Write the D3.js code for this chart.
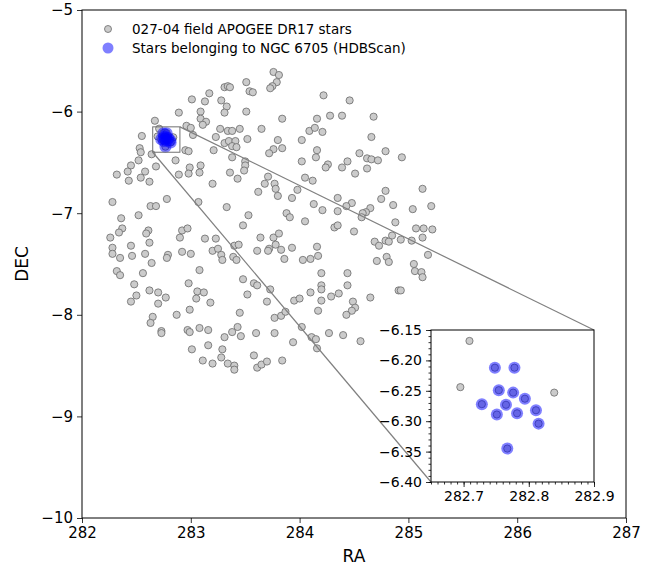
<!DOCTYPE html>
<html>
<head>
<meta charset="utf-8">
<script src="https://cdn.jsdelivr.net/npm/d3@7"></script>
<style>
  body { margin: 0; background: #fff; }
  svg text { font-family: 'DejaVu Sans', sans-serif; fill: #000; }
</style>
</head>
<body>
<svg id="chart" width="660" height="569"></svg>
<script>
// field stars (APOGEE DR17, field 027-04)
const fieldRA = [
  283.17, 283.01, 283.13, 282.89, 283.09, 283.09, 283.14, 283.11, 282.67, 282.96, 283.00, 283.02, 283.23, 282.55,
  282.709, 282.695, 282.839,
  282.53, 282.54, 282.64, 282.95, 282.98, 283.21, 282.52, 282.45, 282.86, 282.99, 283.09, 282.68,
  283.76, 283.81, 283.79, 283.75, 283.73, 283.51, 283.31, 283.34, 283.36, 283.54, 283.57, 284.22, 283.28, 283.33,
  283.31, 283.51, 283.84, 284.28, 284.16, 283.65, 283.27, 283.34, 283.38, 283.45, 284.09, 284.14, 284.21, 283.31,
  283.35, 283.41, 283.38, 283.42, 283.52, 283.80, 284.02, 283.84, 283.76, 283.72, 284.16, 284.15, 283.38, 283.50,
  283.50, 284.02, 284.26,
  284.46, 284.39, 284.68, 284.66, 284.55, 284.62, 284.66, 284.72, 284.79, 284.94, 284.44, 284.39, 284.62,
  282.32, 282.42, 282.43, 282.58, 282.54, 282.62, 282.89, 282.98, 283.08, 283.20, 282.28, 282.63, 282.68, 282.78,
  282.52, 283.07, 282.36, 282.37, 282.34, 282.26, 282.61, 282.59, 282.92, 282.97, 282.90, 283.13, 283.23, 282.28,
  282.45, 282.62, 282.28, 282.35, 282.46, 282.58, 282.64, 282.79, 282.78, 282.92, 283.00, 283.20, 283.25, 283.08,
  282.32,
  283.36, 283.43, 283.49, 283.71, 283.68, 283.77, 283.78, 283.80, 283.62, 283.98, 283.93, 284.05, 284.12, 284.24,
  283.33, 283.53, 283.48, 283.88, 283.91, 284.05, 284.13, 284.21, 283.64, 283.76, 283.81, 283.78, 283.72, 283.71,
  283.83, 283.93, 283.61, 283.86, 284.03, 284.10, 284.17, 284.16, 283.28, 283.29, 283.40, 283.44, 283.39, 283.42,
  284.20,
  284.51, 284.79, 284.75, 285.13, 284.35, 284.48, 284.43, 284.35, 284.65, 284.61, 284.58, 284.57, 284.86, 285.04,
  285.21, 284.88, 284.32, 284.35, 284.50, 285.07, 285.14, 285.22, 285.13, 284.85, 284.93, 285.03, 284.69, 284.73,
  284.79, 284.82, 285.18, 284.80, 284.82, 284.71, 285.05, 285.06, 285.12, 284.44,
  282.35, 282.56, 282.48, 282.62, 282.70, 282.77, 282.50, 282.45, 282.70, 282.98, 283.06, 283.12, 283.05, 283.18,
  282.99, 282.87, 282.65, 282.63, 282.73, 282.73, 282.97, 282.99, 283.08, 283.16, 283.01, 283.16, 283.11, 283.20,
  283.48, 283.58, 283.61, 283.73, 283.52, 283.70, 283.45, 283.77, 283.83, 283.87, 283.95, 284.00, 284.10, 284.20,
  284.20, 284.20, 284.17, 284.29, 284.27, 284.02, 284.11, 284.15, 284.16, 283.94, 283.77, 283.60, 283.43, 283.38,
  283.46, 283.31, 283.29, 283.28, 283.34, 283.40, 283.40, 283.58, 283.61, 283.65, 283.70, 283.84,
  284.44, 284.36, 284.49, 284.51, 284.48, 284.43, 284.65, 284.91, 284.93, 285.13, 284.40, 284.56
];
const fieldDEC = [
  -5.82, -5.88, -5.90, -6.01, -6.00, -6.07, -6.10, -6.13, -6.09, -6.14, -6.16, -6.23, -6.25, -6.24,
  -6.168, -6.244, -6.253,
  -6.36, -6.40, -6.42, -6.38, -6.39, -6.38, -6.48, -6.53, -6.48, -6.55, -6.53, -6.54,
  -5.61, -5.64, -5.71, -5.75, -5.77, -5.71, -5.76, -5.75, -5.76, -5.80, -5.81, -5.84, -5.89, -5.95,
  -6.01, -6.00, -6.07, -6.04, -6.07, -6.17, -6.17, -6.19, -6.19, -6.17, -6.19, -6.16, -6.20, -6.31,
  -6.29, -6.29, -6.34, -6.35, -6.27, -6.28, -6.28, -6.36, -6.37, -6.41, -6.38, -6.45, -6.45, -6.49,
  -6.53, -6.49, -6.52,
  -5.89, -6.04, -6.05, -6.25, -6.41, -6.46, -6.47, -6.48, -6.39, -6.45, -6.49, -6.55, -6.56,
  -6.62, -6.59, -6.68, -6.59, -6.65, -6.69, -6.62, -6.61, -6.60, -6.71, -6.89, -6.93, -6.93, -6.86,
  -7.02, -6.89, -7.05, -7.15, -7.19, -7.24, -7.17, -7.20, -7.17, -7.15, -7.24, -7.25, -7.25, -7.34,
  -7.32, -7.29, -7.40, -7.44, -7.42, -7.40, -7.49, -7.41, -7.44, -7.38, -7.40, -7.37, -7.35, -7.56,
  -7.57,
  -6.60, -6.66, -6.58, -6.64, -6.71, -6.71, -6.76, -6.83, -6.79, -6.77, -6.85, -6.65, -6.68, -6.55,
  -6.94, -7.02, -7.12, -7.00, -7.04, -7.08, -6.91, -6.97, -7.24, -7.24, -7.20, -7.31, -7.35, -7.37,
  -7.36, -7.34, -7.37, -7.45, -7.46, -7.45, -7.42, -7.33, -7.41, -7.46, -7.32, -7.31, -7.43, -7.46,
  -7.59,
  -6.61, -6.78, -6.86, -6.76, -6.85, -6.90, -6.93, -6.98, -6.95, -6.99, -7.00, -7.04, -6.92, -6.96,
  -6.93, -7.09, -7.14, -7.12, -7.18, -7.15, -7.15, -7.16, -7.24, -7.22, -7.26, -7.27, -7.28, -7.32,
  -7.27, -7.28, -7.41, -7.43, -7.48, -7.47, -7.50, -7.57, -7.58, -7.59,
  -7.61, -7.59, -7.70, -7.76, -7.78, -7.83, -7.81, -7.87, -7.89, -7.69, -7.77, -7.78, -7.84, -7.88,
  -7.95, -8.00, -8.02, -8.08, -8.16, -8.18, -8.15, -8.17, -8.13, -8.15, -8.34, -8.30, -8.45, -8.48,
  -7.65, -7.69, -7.71, -7.75, -7.80, -7.87, -7.98, -8.03, -8.01, -7.97, -7.86, -7.84, -7.78, -7.71,
  -7.75, -7.86, -7.96, -7.82, -8.18, -8.12, -8.22, -8.24, -8.33, -8.27, -8.18, -8.18, -8.12, -8.17,
  -8.21, -8.22, -8.34, -8.42, -8.48, -8.50, -8.54, -8.40, -8.52, -8.49, -8.46, -8.45,
  -7.71, -7.79, -7.87, -7.93, -7.96, -8.00, -7.83, -7.76, -7.76, -7.63, -8.20, -8.26
];

// members of NGC 6705 found by HDBScan
const memberRA  = [282.748, 282.778, 282.754, 282.776, 282.794, 282.728, 282.765, 282.751, 282.782, 282.811, 282.815, 282.767];
const memberDEC = [-6.212, -6.212, -6.249, -6.253, -6.263, -6.272, -6.273, -6.289, -6.287, -6.282, -6.304, -6.345];

const xTicks = [282, 283, 284, 285, 286, 287];
const yTicks = [-10, -9, -8, -7, -6, -5];
const zoomRA = [282.65, 282.9];
const zoomDEC = [-6.40, -6.15];
const zoomXTicks = [282.7, 282.8, 282.9];
const zoomYTicks = [-6.15, -6.20, -6.25, -6.30, -6.35, -6.40];
const legendLabels = ["027-04 field APOGEE DR17 stars", "Stars belonging to NGC 6705 (HDBScan)"];

const svg = d3.select("#chart");
const m = { l: 82, r: 626, t: 10, b: 518 };

const x = d3.scaleLinear().domain([282, 287]).range([m.l, m.r]);
const y = d3.scaleLinear().domain([-10, -5]).range([m.b, m.t]);

const field = fieldRA.map((ra, i) => ({ ra: ra, dec: fieldDEC[i] }));
const members = memberRA.map((ra, i) => ({ ra: ra, dec: memberDEC[i] }));
const allStars = field.concat(members);

const greyFill = "#cbcbcb", greyEdge = "#6a6a6a";
const rGrey = 3.6, rBlue = 6;

function drawStars(g, sx, sy) {
  g.selectAll("circle.field")
    .data(allStars)
    .enter()
    .append("circle")
    .attr("class", "field")
    .attr("cx", d => sx(d.ra))
    .attr("cy", d => sy(d.dec))
    .attr("r", rGrey)
    .style("fill", greyFill)
    .style("stroke", greyEdge)
    .style("stroke-width", 0.8);
  g.selectAll("circle.member")
    .data(members)
    .enter()
    .append("circle")
    .attr("class", "member")
    .attr("cx", d => sx(d.ra))
    .attr("cy", d => sy(d.dec))
    .attr("r", rBlue)
    .style("fill", "blue")
    .style("fill-opacity", 0.5);
}

// main panel
const main = svg.append("g");
drawStars(main, x, y);

function styleAxis(g, fs) {
  g.select(".domain").remove();
  g.selectAll(".tick line").style("stroke", "#000").style("stroke-width", 0.8);
  g.selectAll(".tick text").style("font-size", fs + "px").style("font-family", "DejaVu Sans");
}

svg.append("g")
  .attr("transform", `translate(0,${m.b})`)
  .call(d3.axisBottom(x).tickValues(xTicks).tickSize(5).tickPadding(4).tickFormat(d3.format("d")))
  .call(g => styleAxis(g, 15));

svg.append("g")
  .attr("transform", `translate(${m.l},0)`)
  .call(d3.axisLeft(y).tickValues(yTicks).tickSize(5).tickPadding(4).tickFormat(d3.format("d")))
  .call(g => styleAxis(g, 15));

svg.append("rect")
  .attr("x", m.l).attr("y", m.t)
  .attr("width", m.r - m.l).attr("height", m.b - m.t)
  .style("fill", "none").style("stroke", "#000").style("stroke-width", 1);

svg.append("text")
  .attr("x", (m.l + m.r) / 2).attr("y", 562)
  .attr("text-anchor", "middle")
  .style("font-size", "17px")
  .text("RA");

svg.append("text")
  .attr("transform", `translate(28,${(m.t + m.b) / 2}) rotate(-90)`)
  .attr("text-anchor", "middle")
  .style("font-size", "17px")
  .text("DEC");

// zoom box + connectors
const inset = { l: 431, r: 594, t: 330, b: 482 };
const ix = d3.scaleLinear().domain(zoomRA).range([inset.l, inset.r]);
const iy = d3.scaleLinear().domain(zoomDEC).range([inset.b, inset.t]);

svg.append("rect")
  .attr("x", x(zoomRA[0])).attr("y", y(zoomDEC[1]))
  .attr("width", x(zoomRA[1]) - x(zoomRA[0]))
  .attr("height", y(zoomDEC[0]) - y(zoomDEC[1]))
  .style("fill", "none").style("stroke", "#707070").style("stroke-width", 1);

svg.append("line")
  .attr("x1", x(zoomRA[1])).attr("y1", y(zoomDEC[1]))
  .attr("x2", inset.r).attr("y2", inset.t)
  .style("stroke", "#808080").style("stroke-width", 1.2);
svg.append("line")
  .attr("x1", x(zoomRA[0])).attr("y1", y(zoomDEC[0]))
  .attr("x2", inset.l).attr("y2", inset.b)
  .style("stroke", "#808080").style("stroke-width", 1.2);

// inset panel
svg.append("rect")
  .attr("x", inset.l).attr("y", inset.t)
  .attr("width", inset.r - inset.l).attr("height", inset.b - inset.t)
  .style("fill", "#fff");

svg.append("clipPath").attr("id", "clipInset")
  .append("rect")
  .attr("x", inset.l).attr("y", inset.t)
  .attr("width", inset.r - inset.l).attr("height", inset.b - inset.t);

const ig = svg.append("g").attr("clip-path", "url(#clipInset)");
drawStars(ig, ix, iy);

svg.append("g")
  .attr("transform", `translate(0,${inset.b})`)
  .call(d3.axisBottom(ix).ticks(25).tickSize(2.5).tickFormat(""))
  .call(g => styleAxis(g, 14));
svg.append("g")
  .attr("transform", `translate(0,${inset.b})`)
  .call(d3.axisBottom(ix).tickValues(zoomXTicks).tickSize(5).tickPadding(4).tickFormat(d3.format(".1f")))
  .call(g => styleAxis(g, 14));

svg.append("g")
  .attr("transform", `translate(${inset.l},0)`)
  .call(d3.axisLeft(iy).ticks(25).tickSize(2.5).tickFormat(""))
  .call(g => styleAxis(g, 14));
svg.append("g")
  .attr("transform", `translate(${inset.l},0)`)
  .call(d3.axisLeft(iy).tickValues(zoomYTicks).tickSize(5).tickPadding(4).tickFormat(d3.format(".2f")))
  .call(g => styleAxis(g, 14));

svg.append("rect")
  .attr("x", inset.l).attr("y", inset.t)
  .attr("width", inset.r - inset.l).attr("height", inset.b - inset.t)
  .style("fill", "none").style("stroke", "#000").style("stroke-width", 1);

// legend
const leg = svg.append("g");
leg.append("circle").attr("cx", 108).attr("cy", 29).attr("r", 3.5)
  .style("fill", greyFill).style("stroke", greyEdge).style("stroke-width", 0.8);
leg.append("circle").attr("cx", 108).attr("cy", 48).attr("r", 5.5)
  .style("fill", "blue").style("fill-opacity", 0.5);
leg.selectAll("text.lab")
  .data(legendLabels)
  .enter()
  .append("text")
  .attr("class", "lab")
  .attr("x", 132)
  .attr("y", (d, i) => 33.5 + i * 19)
  .style("font-size", "13.5px")
  .text(d => d);
</script>
</body>
</html>
